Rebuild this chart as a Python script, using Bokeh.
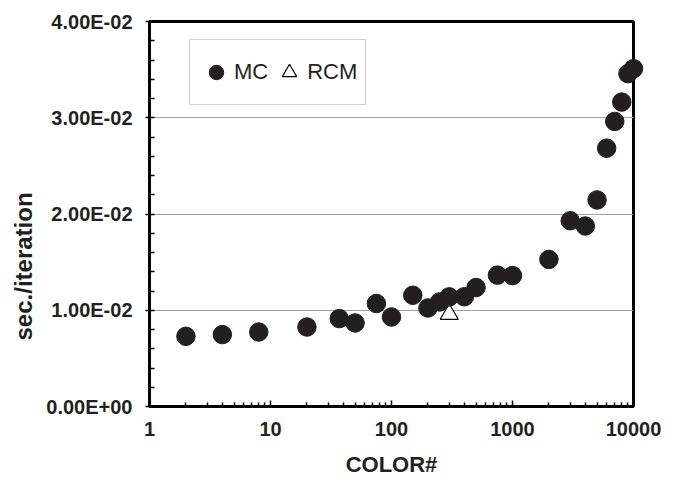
from bokeh.plotting import figure
from bokeh.models import (FixedTicker, CustomJSTickFormatter, Legend, LegendItem, Title)
from bokeh.embed import file_html
from bokeh.resources import INLINE

# ---- data ----
colors = [2, 4, 8, 20, 37, 50, 75, 100, 150, 200, 250, 300, 400, 500, 750,
          1000, 2000, 3000, 4000, 5000, 6000, 7000, 8000, 9000, 10000]
mc_time = [0.00729, 0.00747, 0.00774, 0.00826, 0.00913, 0.00868, 0.0107, 0.0093,
           0.01156, 0.01024, 0.01087, 0.01139, 0.0114, 0.01236, 0.01365, 0.0136,
           0.01528, 0.0193, 0.01875, 0.02146, 0.02684, 0.02962, 0.03163, 0.03458, 0.0351]
rcm_colors = [300]
rcm_time = [0.0096]

x_ticks = [1, 10, 100, 1000, 10000]
x_minor = [m * d for d in [1, 10, 100, 1000] for m in range(2, 10)]
y_ticks = [0.0, 0.01, 0.02, 0.03, 0.04]
y_minor = [0.002, 0.004, 0.006, 0.008, 0.012, 0.014, 0.016, 0.018,
           0.022, 0.024, 0.026, 0.028, 0.032, 0.034, 0.036, 0.038]

FONT = "Liberation Sans"
TXT = "#231f20"

p = figure(width=669, height=482, x_axis_type="log", x_range=(1, 10000), y_range=(0, 0.04),
           output_backend="svg", toolbar_location=None, title=None,
           min_border_left=149, min_border_right=36, min_border_top=21, min_border_bottom=76)

p.outline_line_color = "black"
p.outline_line_width = 3
p.outline_line_alpha = 1.0
p.background_fill_color = "white"
p.border_fill_color = "white"

# x axis
xa = p.xaxis[0]
xa.ticker = FixedTicker(ticks=x_ticks, minor_ticks=x_minor)
xa.formatter = CustomJSTickFormatter(code="return tick.toFixed(0);")
xa.axis_line_width = 3
xa.axis_line_color = "black"
xa.major_tick_in = 6
xa.major_tick_out = 0
xa.minor_tick_in = 4
xa.minor_tick_out = 0
xa.major_tick_line_width = 1.5
xa.minor_tick_line_width = 1.5
xa.major_label_standoff = 15
xa.major_label_text_font = FONT
xa.major_label_text_font_size = "20px"
xa.major_label_text_font_style = "bold"
xa.major_label_text_color = TXT
xa.axis_label = "COLOR#"
xa.axis_label_text_font = FONT
xa.axis_label_text_font_size = "22px"
xa.axis_label_text_font_style = "bold"
xa.axis_label_text_color = TXT
xa.axis_label_standoff = 13

# y axis
ya = p.yaxis[0]
ya.ticker = FixedTicker(ticks=y_ticks, minor_ticks=y_minor)
ya.formatter = CustomJSTickFormatter(code="""
const s = tick.toExponential(2);
const parts = s.split('e');
const n = parseInt(parts[1]);
const a = Math.abs(n);
return parts[0] + 'E' + (n < 0 ? '-' : '+') + (a < 10 ? '0' + a : '' + a);
""")
ya.axis_line_width = 3
ya.axis_line_color = "black"
ya.major_tick_in = 5
ya.major_tick_out = 4
ya.minor_tick_in = 5
ya.minor_tick_out = 0
ya.major_tick_line_width = 1.5
ya.minor_tick_line_width = 1.5
ya.major_label_standoff = 13
ya.major_label_text_font = FONT
ya.major_label_text_font_size = "20px"
ya.major_label_text_font_style = "bold"
ya.major_label_text_color = TXT

p.xgrid.visible = False
p.ygrid.grid_line_color = "#a0a0a0"
p.ygrid.grid_line_width = 1

r1 = p.scatter(colors, mc_time, marker="circle", size=18.5,
               fill_color="#231f20", line_color="#231f20", level="overlay")
r2 = p.scatter(rcm_colors, rcm_time, marker="triangle", size=18,
               fill_color="white", line_color="black", line_width=1.2)

legend = Legend(items=[LegendItem(label="MC", renderers=[r1]),
                       LegendItem(label="RCM", renderers=[r2])],
                orientation="horizontal", location=(40, 301),
                glyph_width=36, glyph_height=48, label_standoff=0, spacing=3,
                padding=8, margin=0,
                border_line_color="#a0a0a0", border_line_width=1,
                background_fill_color="white", background_fill_alpha=1.0,
                label_text_font=FONT, label_text_font_size="22px",
                label_text_color=TXT)
p.add_layout(legend)

p.add_layout(Title(text="sec./iteration", align="left", offset=66, standoff=14,
                   text_font=FONT, text_font_size="24px", text_font_style="bold",
                   text_color=TXT), "left")

open("out.html", "w").write(file_html(p, INLINE))
